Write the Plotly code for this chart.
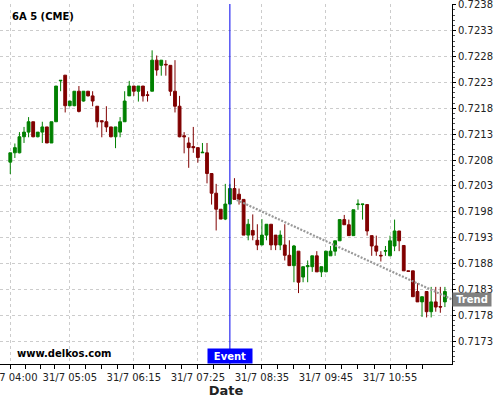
import pandas as pd
import plotly.graph_objects as go

# ---------------- data ----------------
title_text = "6A 5 (CME)"
watermark = "www.delkos.com"
times = [t.strftime("%-d/%-m %H:%M") for t in pd.date_range("2020-07-31 04:00", periods=96, freq="5min")]

opens = [0.72076, 0.72094, 0.72094, 0.72125, 0.72134, 0.72154, 0.72125, 0.72134, 0.72144, 0.72113,
         0.72154, 0.72233, 0.72244, 0.72185, 0.72185, 0.72213, 0.72194, 0.72213, 0.72204, 0.72184,
         0.72156, 0.72154, 0.72144, 0.72125, 0.72134, 0.72154, 0.72204, 0.72223, 0.72213, 0.72223,
         0.72206, 0.72213, 0.72273, 0.72263, 0.72265, 0.72263, 0.72213, 0.72184, 0.72127, 0.72113,
         0.72106, 0.72104, 0.72094, 0.72094, 0.72054, 0.72016, 0.71985, 0.71966, 0.71995, 0.72025,
         0.72014, 0.72004, 0.71935, 0.71944, 0.71925, 0.71916, 0.71935, 0.71956, 0.71935, 0.71916,
         0.71916, 0.71896, 0.71876, 0.71904, 0.71854, 0.71874, 0.71874, 0.71895, 0.71864, 0.71864,
         0.71895, 0.71904, 0.71924, 0.71965, 0.71955, 0.71934, 0.71994, 0.71994, 0.71994, 0.71934,
         0.71914, 0.71896, 0.71904, 0.71895, 0.71914, 0.71943, 0.71915, 0.71866, 0.71866, 0.71826,
         0.71806, 0.71826, 0.71787, 0.71806, 0.71797, 0.71806]
highs = [0.72094, 0.72112, 0.72134, 0.72144, 0.72163, 0.72154, 0.72134, 0.72154, 0.72144, 0.72154,
         0.72223, 0.72234, 0.72244, 0.72194, 0.72213, 0.72223, 0.72213, 0.72213, 0.72213, 0.72184,
         0.72156, 0.72184, 0.72144, 0.72144, 0.72163, 0.72213, 0.72233, 0.72223, 0.72223, 0.72223,
         0.72213, 0.72292, 0.72282, 0.72273, 0.72273, 0.72263, 0.72273, 0.72204, 0.72134, 0.72124,
         0.72144, 0.72104, 0.72113, 0.72113, 0.72054, 0.72034, 0.71985, 0.72034, 0.72034, 0.72045,
         0.72025, 0.72004, 0.71966, 0.71975, 0.71956, 0.71966, 0.71956, 0.71956, 0.71935, 0.71944,
         0.71956, 0.71925, 0.71916, 0.71904, 0.71874, 0.71886, 0.71895, 0.71904, 0.71874, 0.71904,
         0.71914, 0.71924, 0.71965, 0.71974, 0.71965, 0.71984, 0.72004, 0.71995, 0.71994, 0.71934,
         0.71934, 0.71904, 0.71914, 0.71934, 0.71965, 0.71943, 0.71915, 0.71866, 0.71866, 0.71842,
         0.71816, 0.71826, 0.71835, 0.71835, 0.71835, 0.71835]
lows = [0.72053, 0.72084, 0.72093, 0.72113, 0.72124, 0.72124, 0.72124, 0.72113, 0.72113, 0.72113,
        0.72154, 0.72213, 0.72172, 0.72184, 0.72184, 0.72172, 0.72193, 0.72203, 0.72184, 0.72143,
        0.72124, 0.72134, 0.72124, 0.72103, 0.72124, 0.72154, 0.72204, 0.72204, 0.72193, 0.72193,
        0.72193, 0.72213, 0.72243, 0.72243, 0.72243, 0.72204, 0.72172, 0.72124, 0.72093, 0.72065,
        0.72094, 0.72075, 0.72094, 0.72035, 0.71994, 0.71944, 0.71966, 0.71964, 0.71995, 0.72004,
        0.71994, 0.71935, 0.71925, 0.71925, 0.71906, 0.71916, 0.71925, 0.71906, 0.71906, 0.71906,
        0.71886, 0.71876, 0.71844, 0.71823, 0.71844, 0.71844, 0.71864, 0.71864, 0.71854, 0.71864,
        0.71895, 0.71895, 0.71924, 0.71955, 0.71934, 0.71934, 0.71984, 0.71965, 0.71934, 0.71895,
        0.71895, 0.71884, 0.71895, 0.71895, 0.71904, 0.71904, 0.71866, 0.71865, 0.71816, 0.71806,
        0.71777, 0.71776, 0.71776, 0.71787, 0.71785, 0.71796]
closes = [0.72094, 0.72104, 0.72125, 0.72134, 0.72154, 0.72125, 0.72134, 0.72144, 0.72113, 0.72154,
          0.72223, 0.72234, 0.72185, 0.72194, 0.72213, 0.72174, 0.72213, 0.72204, 0.72194, 0.72154,
          0.72154, 0.72144, 0.72125, 0.72144, 0.72154, 0.72194, 0.72223, 0.72213, 0.72223, 0.72204,
          0.72205, 0.72273, 0.72254, 0.72273, 0.72264, 0.72213, 0.72184, 0.72125, 0.72125, 0.72104,
          0.72104, 0.72085, 0.72095, 0.72054, 0.72016, 0.71985, 0.71966, 0.71995, 0.72025, 0.72004,
          0.72004, 0.71935, 0.71956, 0.71935, 0.71916, 0.71935, 0.71956, 0.71916, 0.71916, 0.71935,
          0.71896, 0.71876, 0.71914, 0.71844, 0.71874, 0.71876, 0.71895, 0.71864, 0.71874, 0.71904,
          0.71904, 0.71924, 0.71965, 0.71955, 0.71934, 0.71984, 0.71995, 0.71995, 0.71943, 0.71914,
          0.71904, 0.71895, 0.71905, 0.71924, 0.71943, 0.71924, 0.71866, 0.71865, 0.71816, 0.71806,
          0.71816, 0.71787, 0.71806, 0.71796, 0.71796, 0.71826]

tick_labels = ["31/7 04:00", "31/7 05:05", "31/7 06:15", "31/7 07:25", "31/7 08:35", "31/7 09:45", "31/7 10:55"]
y_ticks = [0.7173, 0.7178, 0.7183, 0.7188, 0.7193, 0.7198, 0.7203, 0.7208, 0.7213, 0.7218, 0.7223, 0.7228, 0.7233, 0.7238]

event_time = "31/7 08:00"
event_label = "Event"
trend_x = [49.5, 96.5]
trend_y = [0.72003, 0.71811]
trend_label = "Trend"

# ---------------- figure ----------------
x = list(range(len(times)))
tickvals = [times.index(t) for t in tick_labels]
minor_vals = []
for a, b in zip(tickvals[:-1], tickvals[1:]):
    minor_vals += [a + (b - a) * k / 4 for k in range(1, 4)]
minor_vals += [tickvals[-1] + (tickvals[-1] - tickvals[-2]) * k / 4 for k in range(1, 3)]
event_x = times.index(event_time)

fig = go.Figure()
fig.add_trace(go.Candlestick(
    x=x, open=opens, high=highs, low=lows, close=closes,
    increasing=dict(line=dict(color="#008000", width=1), fillcolor="#008000"),
    decreasing=dict(line=dict(color="#800000", width=1), fillcolor="#800000"),
    whiskerwidth=0, showlegend=False, hoverinfo="skip"))
fig.add_trace(go.Scatter(
    x=trend_x, y=trend_y, mode="lines",
    line=dict(color="#999999", width=2.2, dash="2px,1.5px"),
    showlegend=False, hoverinfo="skip"))

fig.add_shape(type="line", xref="x", yref="paper", x0=event_x, x1=event_x, y0=0, y1=1,
              line=dict(color="#0000ee", width=1))

font = "DejaVu Sans"
fig.add_annotation(text=f"<b>{event_label}</b>", xref="x", yref="paper", x=event_x, y=0,
                   xanchor="center", yanchor="bottom", showarrow=False, bgcolor="#0000ff",
                   width=44, height=14, borderpad=0,
                   font=dict(family=font, size=10, color="white"))
fig.add_annotation(text=f"<b>{trend_label}</b>", xref="paper", yref="y", x=1, y=trend_y[-1],
                   xanchor="left", yanchor="middle", showarrow=False, bgcolor="#808080",
                   width=38, height=13, borderpad=0,
                   font=dict(family=font, size=10, color="white"))
fig.add_annotation(text=f"<b>{title_text}</b>", xref="paper", yref="paper", x=0.022, y=0.966,
                   xanchor="left", yanchor="middle", showarrow=False,
                   font=dict(family=font, size=10, color="black"))
fig.add_annotation(text=f"<b>{watermark}</b>", xref="paper", yref="paper", x=0.033, y=0.028,
                   xanchor="left", yanchor="middle", showarrow=False,
                   font=dict(family=font, size=10, color="black"))

fig.update_layout(
    width=500, height=400,
    margin=dict(l=0, r=48, t=4, b=36),
    paper_bgcolor="white", plot_bgcolor="white",
    boxgap=0.12,
    font=dict(family=font, size=10, color="#222222"),
    xaxis=dict(
        range=[-2.25, 96.55], tickmode="array", tickvals=tickvals, ticktext=tick_labels,
        showgrid=True, gridcolor="#cccccc", griddash="3px,3px", gridwidth=1,
        showline=True, linecolor="black", linewidth=1, ticks="outside", ticklen=4,
        tickcolor="black", zeroline=False, rangeslider=dict(visible=False),
        ticklabeloverflow="allow",
        minor=dict(tickmode="array", tickvals=minor_vals, ticks="outside", ticklen=4,
                   tickcolor="black", showgrid=False),
        title=dict(text="<b>Date</b>", font=dict(family=font, size=13, color="#222222"), standoff=1),
        tickfont=dict(family=font, size=10, color="#222222"),
        automargin=False, fixedrange=True),
    yaxis=dict(
        side="right", range=[0.71686, 0.723815], tickmode="array", tickvals=y_ticks,
        ticktext=[f"{v:.4f}" for v in y_ticks],
        showgrid=True, gridcolor="#cccccc", griddash="3px,3px", gridwidth=1,
        showline=True, linecolor="black", linewidth=1, ticks="outside", ticklen=3,
        tickcolor="black", zeroline=False, ticklabeloverflow="allow",
        minor=dict(dtick=0.0001, tick0=0.7173, ticks="outside", ticklen=2, tickcolor="#555555",
                   showgrid=False),
        tickfont=dict(family=font, size=10, color="#222222"),
        automargin=False, fixedrange=True),
)

fig.write_html("out.html", config={"displayModeBar": False},
               post_script="document.body.style.margin='0px';document.body.style.overflow='hidden';")
